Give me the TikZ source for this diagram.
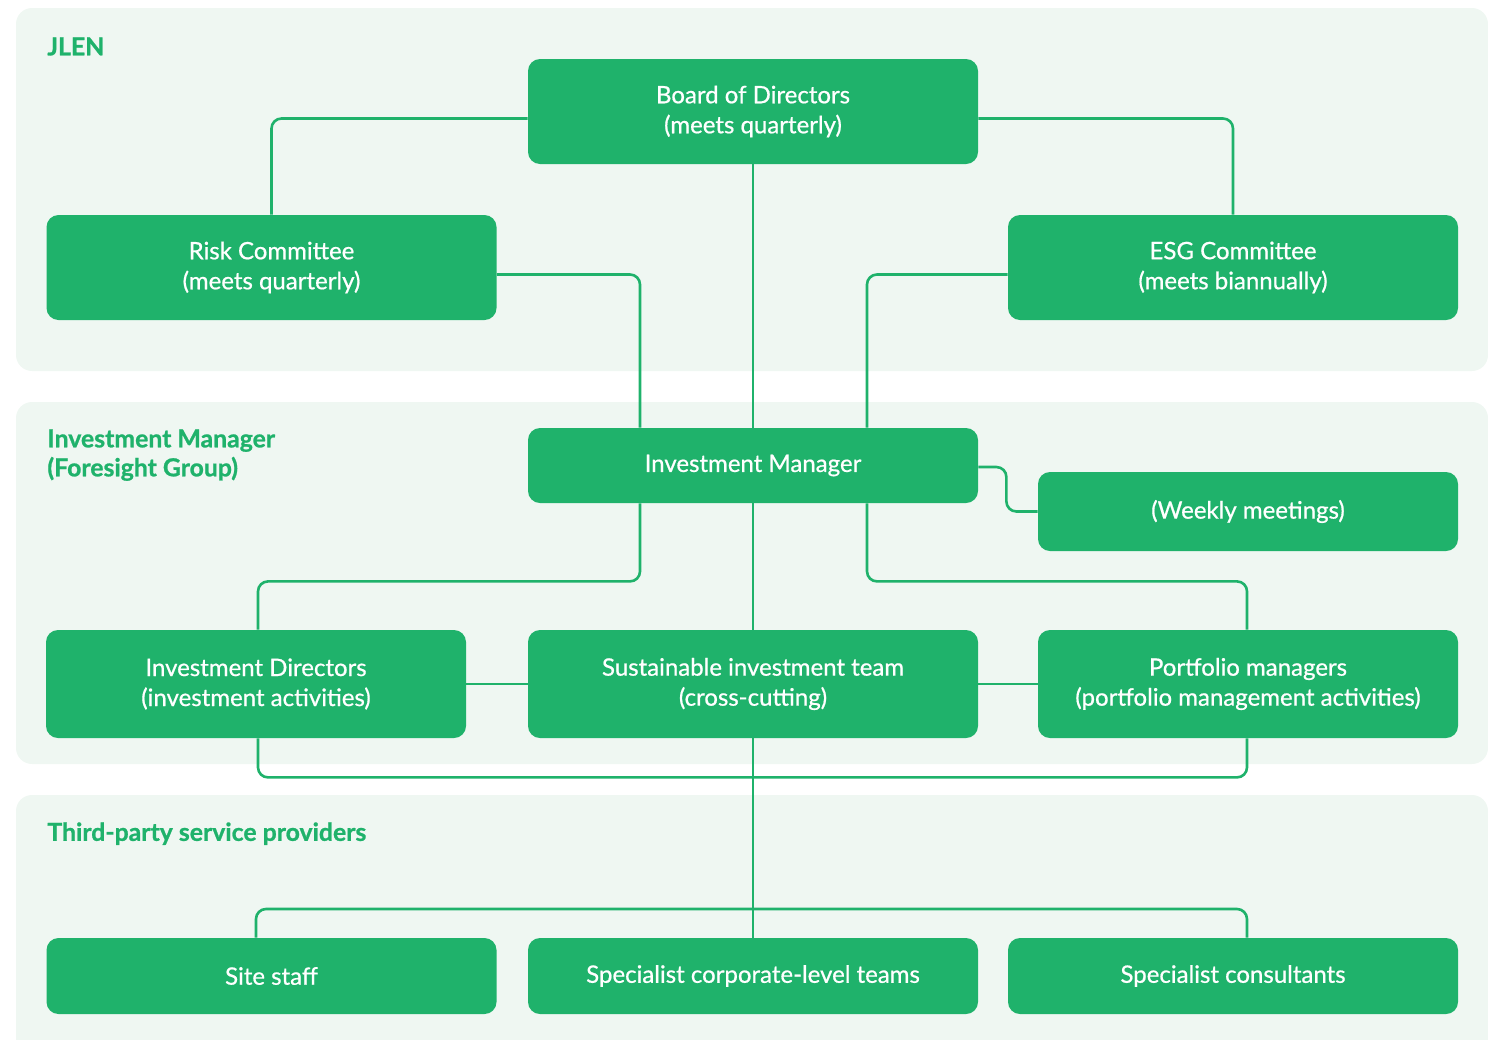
\documentclass[tikz,border=0pt]{standalone}
\usepackage{fontspec}
\setmainfont{Lato}
\newfontfamily\boxfont{Lato}[FakeBold=0.7]
\newfontfamily\headfont{Lato Bold}[FakeBold=0.9]
\usetikzlibrary{calc}

\definecolor{jlengreen}{RGB}{31,178,107}
\definecolor{panelbg}{RGB}{239,247,242}

\begin{document}
\begin{tikzpicture}[
  x=0.5pt, y=-0.5pt,
  font=\boxfont\fontsize{12}{15}\selectfont,
  box/.style={
    fill=jlengreen,
    rounded corners=6pt,
    text=white,
    align=center,
    inner sep=0pt
  },
  widebox/.style={box, minimum width=225pt, minimum height=52.5pt},
  midbox/.style={box, minimum width=210pt, minimum height=54pt},
  lowbox/.style={box, minimum width=225pt, minimum height=38pt},
  panel/.style={fill=panelbg, rounded corners=8pt},
  heading/.style={text=jlengreen, font=\headfont\fontsize{12.4}{14.5}\selectfont, align=left, anchor=north west, inner sep=0pt},
  link/.style={draw=jlengreen, line width=1.3pt, rounded corners=5pt}
]
\useasboundingbox (0,0) rectangle (1488,1039);

% Background panels
\begin{scope}
  \clip (0,0) rectangle (1488,1039);
  \fill[panel] (16,8) rectangle (1488,371);
  \fill[panel] (16,402) rectangle (1488,764);
  \fill[panel] (16,795) rectangle (1488,1060);
\end{scope}

\node[heading] (jlenlbl) at (47,37) {JLEN};
\node[heading] (imlbl)   at (47,429) {Investment Manager\\(Foresight Group)};
\node[heading] (tplbl)   at (47,822) {Third-party service providers};

% Row 1: board and committees
\node[widebox] (board) at (753,111.5) {Board of Directors\\(meets quarterly)};
\node[widebox] (risk)  at (271.5,267.5) {Risk Committee\\(meets quarterly)};
\node[widebox] (esg)   at (1233,267.5) {ESG Committee\\(meets biannually)};

% Row 2: investment manager
\node[box, minimum width=225pt, minimum height=37.5pt] (im) at (753,465.5) {Investment Manager};
\node[box, minimum width=210pt, minimum height=39.5pt] (weekly) at (1248,511.5) {(Weekly meetings)};

% Row 3: teams
\node[midbox] (invdir) at (256,684) {Investment Directors\\(investment activities)};
\node[box, minimum width=225pt, minimum height=54pt] (sust) at (753,684) {Sustainable investment team\\(cross-cutting)};
\node[midbox] (port)   at (1248,684) {Portfolio managers\\(portfolio management activities)};

% Row 4: third parties
\node[lowbox] (site) at (271.5,976) {Site staff};
\node[lowbox] (corp) at (753,976) {Specialist corporate-level teams};
\node[lowbox] (cons) at (1233,976) {Specialist consultants};

\coordinate (bus) at (753,909);

\draw[link] ($(board.west)+(0,7)$) -| (risk.north);
\draw[link] ($(board.east)+(0,7)$) -| (esg.north);
\draw[link] (board.south) -- (im.north);
\draw[link] ($(risk.east)+(0,7)$) -| ($(im.north)+(-113,0)$);
\draw[link] ($(esg.west)+(0,7)$) -| ($(im.north)+(114,0)$);

\draw[link] ($(im.east)+(0,1.5)$) -- ++(28,0) |- (weekly.west);
\draw[link] ($(im.south)+(-113,0)$) -- ++(0,78) -| ($(invdir.north)+(2,0)$);
\draw[link] (im.south) -- (sust.north);
\draw[link] ($(im.south)+(114,0)$) -- ++(0,78) -| ($(port.north)+(-1,0)$);

\draw[link] (invdir.east) -- (sust.west);
\draw[link] (sust.east) -- (port.west);
\draw[link] ($(invdir.south)+(2,0)$) -- ++(0,39) -| ($(port.south)+(-1,0)$);

\draw[link] (sust.south) -- (corp.north);
\draw[link] (site.north -| invdir.south) |- (bus) -| ($(cons.north -| port.south)+(-1,0)$);

\end{tikzpicture}
\end{document}
